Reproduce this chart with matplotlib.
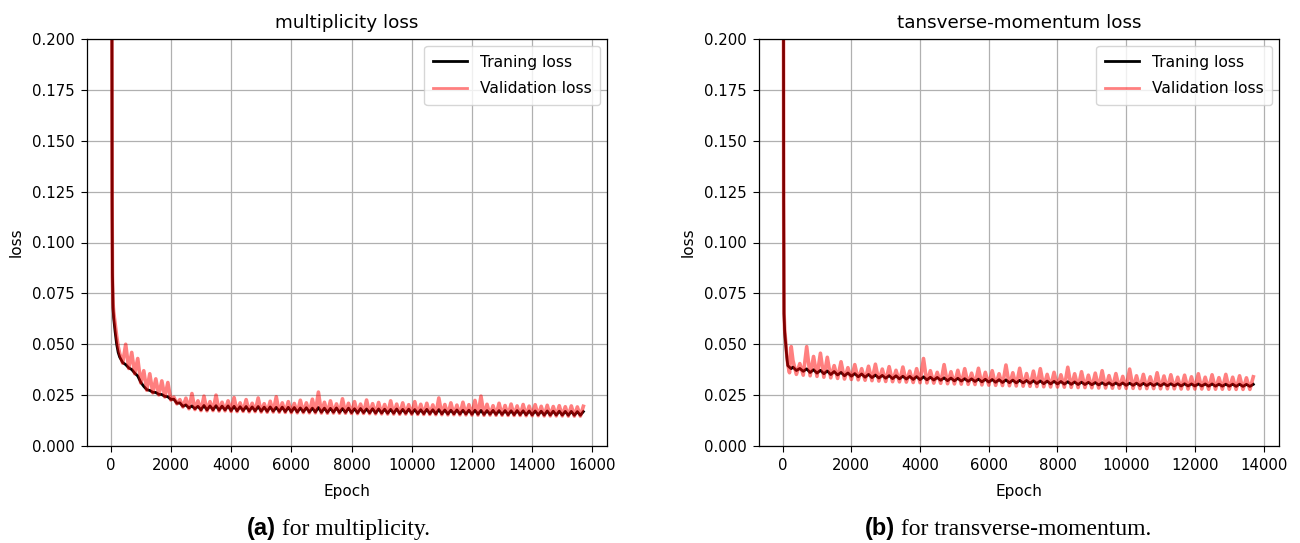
import numpy as np
import matplotlib
matplotlib.use("Agg")
import matplotlib.pyplot as plt

# ---------------- data ----------------
# (a) multiplicity
ep_a_head = [0, 20, 40, 50, 60, 80, 100, 150, 200, 250]
train_a_head = [1.2, 0.6, 0.25, 0.12, 0.085, 0.068, 0.063, 0.056, 0.050, 0.046]
val_a_head = [1.1, 0.55, 0.24, 0.115, 0.083, 0.070, 0.066, 0.060, 0.054, 0.049]
ep_a_tail = np.arange(300, 15701, 100)
train_a_tail = [
    .0437, .0410, .0400, .0384, .0376, .0358, .0344,
    .0313, .0293, .0277, .0273, .0264, .0263, .0254, .0253, .0244, .0242,
    .0229, .0230, .0210, .0212, .0195, .0202, .0187, .0197, .0183, .0195,
    .0178, .0199, .0177, .0197, .0178, .0198, .0176, .0196, .0177, .0197,
    .0174, .0195, .0173, .0193, .0174, .0194, .0172, .0192, .0173, .0194,
    .0171, .0191, .0170, .0192, .0171, .0190, .0170, .0191, .0169, .0190,
    .0168, .0189, .0167, .0187, .0168, .0188, .0167, .0186, .0167, .0189,
    .0166, .0186, .0165, .0185, .0166, .0187, .0165, .0184, .0165, .0186,
    .0164, .0183, .0163, .0184, .0164, .0182, .0163, .0183, .0162, .0182,
    .0162, .0181, .0161, .0180, .0161, .0182, .0160, .0180, .0161, .0181,
    .0160, .0179, .0159, .0178, .0159, .0180, .0159, .0178, .0158, .0179,
    .0158, .0177, .0157, .0176, .0158, .0177, .0157, .0176, .0157, .0176,
    .0156, .0176, .0156, .0175, .0155, .0174, .0156, .0175, .0155, .0174,
    .0155, .0174, .0154, .0173, .0154, .0174, .0154, .0173, .0153, .0172,
    .0153, .0172, .0153, .0171, .0152, .0172, .0152, .0171, .0152, .0171,
    .0152, .0170, .0151, .0170, .0151, .0169, .0151, .0169,
]
val_a_tail = [
    .0455, .0407, .0500, .0381, .0460, .0355, .0430,
    .0310, .0370, .0274, .0355, .0261, .0330, .0251, .0320, .0241, .0312,
    .0226, .0240, .0207, .0228, .0192, .0235, .0183, .0258, .0179, .0222,
    .0174, .0245, .0173, .0218, .0174, .0250, .0172, .0215, .0173, .0222,
    .0170, .0238, .0169, .0212, .0170, .0228, .0168, .0210, .0169, .0236,
    .0167, .0208, .0166, .0220, .0167, .0242, .0166, .0212, .0165, .0218,
    .0164, .0209, .0163, .0225, .0164, .0212, .0163, .0230, .0163, .0265,
    .0162, .0215, .0161, .0222, .0162, .0207, .0161, .0232, .0161, .0210,
    .0160, .0218, .0159, .0206, .0160, .0226, .0159, .0208, .0158, .0214,
    .0158, .0204, .0157, .0222, .0157, .0206, .0156, .0212, .0157, .0203,
    .0156, .0218, .0155, .0205, .0155, .0210, .0155, .0202, .0154, .0236,
    .0154, .0204, .0153, .0212, .0154, .0201, .0153, .0215, .0153, .0203,
    .0152, .0224, .0152, .0245, .0151, .0205, .0152, .0198, .0151, .0210,
    .0151, .0199, .0150, .0206, .0150, .0197, .0150, .0204, .0149, .0196,
    .0149, .0203, .0149, .0195, .0148, .0200, .0148, .0194, .0148, .0198,
    .0148, .0193, .0147, .0197, .0147, .0192, .0147, .0195,
]

# (b) transverse-momentum
ep_b_head = [0, 15, 30, 40, 60, 90, 120, 150, 200, 250]
train_b_head = [1.0, 0.4, 0.12, 0.065, 0.056, 0.050, 0.044, 0.0395, 0.0387, 0.0380]
val_b_head = [1.0, 0.4, 0.12, 0.066, 0.057, 0.051, 0.045, 0.0400, 0.0360, 0.0488]
ep_b_tail = np.arange(300, 13701, 100)
train_b_tail = [
    .0388, .0371, .0381, .0367, .0379, .0361, .0375,
    .0358, .0372, .0355, .0369, .0351, .0366, .0349, .0362, .0345, .0359,
    .0343, .0356, .0340, .0354, .0338, .0352, .0336, .0349, .0334, .0347,
    .0333, .0346, .0331, .0345, .0330, .0343, .0329, .0342, .0327, .0341,
    .0326, .0340, .0325, .0338, .0324, .0337, .0323, .0335, .0321, .0334,
    .0320, .0333, .0319, .0331, .0318, .0330, .0317, .0329, .0315, .0328,
    .0314, .0327, .0313, .0326, .0312, .0325, .0311, .0324, .0310, .0323,
    .0310, .0322, .0308, .0321, .0307, .0320, .0306, .0319, .0305, .0318,
    .0305, .0317, .0304, .0316, .0303, .0315, .0302, .0314, .0302, .0313,
    .0301, .0312, .0300, .0311, .0300, .0311, .0299, .0310, .0299, .0310,
    .0298, .0309, .0298, .0309, .0297, .0308, .0297, .0308, .0297, .0307,
    .0296, .0307, .0296, .0306, .0296, .0306, .0295, .0306, .0295, .0305,
    .0295, .0305, .0295, .0305, .0294, .0305, .0294, .0304, .0294, .0304,
    .0294, .0304, .0293, .0304, .0293, .0303, .0293, .0303,
]
val_b_tail = [
    .0420, .0352, .0405, .0348, .0488, .0345, .0440,
    .0342, .0456, .0338, .0436, .0335, .0395, .0332, .0414, .0329, .0385,
    .0327, .0400, .0325, .0380, .0323, .0392, .0321, .0402, .0319, .0378,
    .0317, .0390, .0316, .0372, .0315, .0388, .0314, .0368, .0312, .0380,
    .0311, .0430, .0310, .0370, .0309, .0362, .0308, .0400, .0306, .0365,
    .0305, .0372, .0304, .0380, .0303, .0358, .0302, .0382, .0300, .0362,
    .0299, .0370, .0298, .0355, .0297, .0398, .0296, .0360, .0295, .0382,
    .0294, .0356, .0293, .0368, .0292, .0380, .0291, .0352, .0290, .0362,
    .0290, .0350, .0289, .0387, .0288, .0355, .0287, .0365, .0287, .0348,
    .0286, .0358, .0285, .0370, .0285, .0346, .0284, .0356, .0284, .0342,
    .0283, .0378, .0283, .0345, .0282, .0352, .0282, .0340, .0282, .0360,
    .0281, .0344, .0281, .0350, .0281, .0338, .0280, .0348, .0280, .0340,
    .0280, .0355, .0280, .0338, .0279, .0350, .0279, .0336, .0279, .0352,
    .0279, .0338, .0278, .0345, .0278, .0335, .0278, .0340,
]

titles = ["multiplicity loss", "tansverse-momentum loss"]
legend_labels = ["Traning loss", "Validation loss"]
captions = [("(a)", " for multiplicity."), ("(b)", " for transverse-momentum.")]
yticks = [0.0, 0.025, 0.05, 0.075, 0.1, 0.125, 0.15, 0.175, 0.2]
xticks_a = [0, 2000, 4000, 6000, 8000, 10000, 12000, 14000, 16000]
xticks_b = [0, 2000, 4000, 6000, 8000, 10000, 12000, 14000]

# ---------------- figure ----------------
W, H = 1300, 543
fig = plt.figure(figsize=(W / 100, H / 100), dpi=100)

FS = 10.7
panels = [
    dict(rect=[87 / W, 1 - 446 / H, 520 / W, 407 / H],
         ep=np.concatenate([ep_a_head, ep_a_tail]),
         tr=np.array(train_a_head + train_a_tail),
         va=np.array(val_a_head + val_a_tail),
         xlim=(-785, 16485), xticks=xticks_a, title=titles[0]),
    dict(rect=[759 / W, 1 - 446 / H, 520 / W, 407 / H],
         ep=np.concatenate([ep_b_head, ep_b_tail]),
         tr=np.array(train_b_head + train_b_tail),
         va=np.array(val_b_head + val_b_tail),
         xlim=(-688, 14448), xticks=xticks_b, title=titles[1]),
]

for p in panels:
    ax = fig.add_axes(p["rect"])
    ax.plot(p["ep"], p["tr"], color="black", lw=2.0, label=legend_labels[0])
    ax.plot(p["ep"], p["va"], color="red", alpha=0.5, lw=2.6,
            solid_joinstyle="round", label=legend_labels[1])
    ax.set_xlim(*p["xlim"])
    ax.set_ylim(0, 0.2)
    ax.set_xticks(p["xticks"])
    ax.set_yticks(yticks)
    ax.set_yticklabels([f"{v:.3f}" for v in yticks])
    ax.tick_params(labelsize=FS, length=4.2, width=0.8, pad=4.5)
    ax.grid(True, color="#b0b0b0", lw=0.9)
    ax.set_title(p["title"], fontsize=13.2, pad=8)
    ax.set_xlabel("Epoch", fontsize=11, labelpad=8)
    ax.set_ylabel("loss", fontsize=11, labelpad=6)
    leg = ax.legend(loc="upper right", fontsize=11.2, borderaxespad=0.45,
                    labelspacing=0.75, borderpad=0.55, handlelength=2.2)
    for h in leg.get_lines():
        h.set_linewidth(2.0)
    for s in ax.spines.values():
        s.set_linewidth(0.9)

# captions
fig.canvas.draw()
renderer = fig.canvas.get_renderer()
cap_x = [247, 865]
cap_base = 535
for (bold, rest), x0 in zip(captions, cap_x):
    t1 = fig.text(x0 / W, 1 - cap_base / H, bold, fontsize=17, fontweight="bold",
                  family="Liberation Sans", ha="left", va="baseline")
    bb = t1.get_window_extent(renderer)
    fig.text(bb.x1 / W, 1 - cap_base / H, rest, fontsize=17,
             family="Liberation Serif", ha="left", va="baseline")

fig.savefig("out.png", dpi=100)
